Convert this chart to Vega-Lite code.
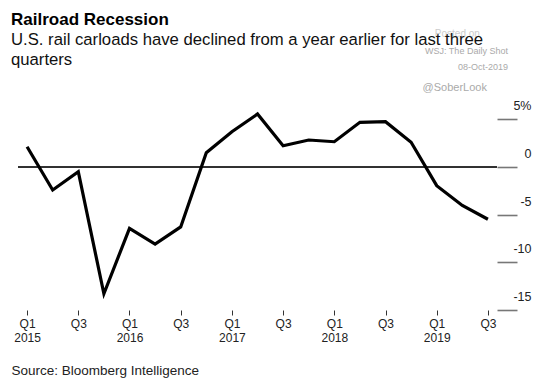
{
  "$schema": "https://vega.github.io/schema/vega-lite/v6.json",
  "width": 479,
  "height": 191,
  "autosize": {"type": "none"},
  "padding": {"left": 18, "top": 119, "right": 44, "bottom": 79},
  "background": "white",
  "config": {
    "font": "Liberation Sans",
    "view": {"stroke": null}
  },
  "title": {
    "text": "Railroad Recession",
    "subtitle": ["U.S. rail carloads have declined from a year earlier for last three", "quarters"],
    "anchor": "start",
    "frame": "group",
    "dx": -7,
    "fontSize": 17,
    "fontWeight": "bold",
    "color": "#000000",
    "subtitleFontSize": 16.7,
    "subtitleColor": "#111111",
    "subtitleLineHeight": 20,
    "subtitlePadding": 3,
    "offset": -41
  },
  "datasets": {
    "rail": [
      {"q": "Q1 2015", "v": 2.1},
      {"q": "Q2 2015", "v": -2.43},
      {"q": "Q3 2015", "v": -0.52},
      {"q": "Q4 2015", "v": -13.3},
      {"q": "Q1 2016", "v": -6.45},
      {"q": "Q2 2016", "v": -8.1},
      {"q": "Q3 2016", "v": -6.3},
      {"q": "Q4 2016", "v": 1.47},
      {"q": "Q1 2017", "v": 3.67},
      {"q": "Q2 2017", "v": 5.52},
      {"q": "Q3 2017", "v": 2.2},
      {"q": "Q4 2017", "v": 2.8},
      {"q": "Q1 2018", "v": 2.62},
      {"q": "Q2 2018", "v": 4.65},
      {"q": "Q3 2018", "v": 4.72},
      {"q": "Q4 2018", "v": 2.56},
      {"q": "Q1 2019", "v": -1.98},
      {"q": "Q2 2019", "v": -4.05},
      {"q": "Q3 2019", "v": -5.5}
    ]
  },
  "data": {"name": "rail"},
  "layer": [
    {
      "mark": {"type": "rule", "color": "#333333", "strokeWidth": 1.2},
      "encoding": {
        "y": {"datum": 0, "type": "quantitative", "scale": {"domain": [-15, 5], "nice": false, "zero": false}}
      }
    },
    {
      "mark": {"type": "line", "color": "#000000", "strokeWidth": 3.2, "strokeJoin": "miter"},
      "encoding": {
        "x": {
          "field": "q",
          "type": "ordinal",
          "scale": {
            "type": "point",
            "padding": 0.355,
            "domain": ["Q1 2015","Q2 2015","Q3 2015","Q4 2015","Q1 2016","Q2 2016","Q3 2016","Q4 2016","Q1 2017","Q2 2017","Q3 2017","Q4 2017","Q1 2018","Q2 2018","Q3 2018","Q4 2018","Q1 2019","Q2 2019","Q3 2019"]
          },
          "axis": {
            "values": ["Q1 2015","Q3 2015","Q1 2016","Q3 2016","Q1 2017","Q3 2017","Q1 2018","Q3 2018","Q1 2019","Q3 2019"],
            "labelExpr": "slice(datum.value,0,2)=='Q1' ? split(datum.value,' ') : slice(datum.value,0,2)",
            "labelAngle": 0,
            "labelFontSize": 12,
            "labelColor": "#222222",
            "labelLineHeight": 14.5,
            "labelBaseline": "top",
            "labelPadding": 3,
            "domain": false,
            "grid": false,
            "ticks": true,
            "tickSize": 5,
            "tickColor": "#333333",
            "tickWidth": 1,
            "title": "Source: Bloomberg Intelligence",
            "titleFontSize": 13.5,
            "titleFontWeight": "normal",
            "titleColor": "#222222",
            "titleAnchor": "start",
            "titleAlign": "left",
            "titleBaseline": "alphabetic",
            "titleX": -7,
            "titleY": 64
          }
        },
        "y": {
          "field": "v",
          "type": "quantitative",
          "scale": {"domain": [-15, 5], "nice": false, "zero": false},
          "axis": {
            "orient": "right",
            "values": [5, 0, -5, -10, -15],
            "labelExpr": "datum.value == 5 ? '5%' : toString(datum.value)",
            "labelFontSize": 12.5,
            "labelColor": "#222222",
            "labelAlign": "right",
            "labelBaseline": "alphabetic",
            "labelPadding": 14,
            "labelOffset": -9.5,
            "domain": false,
            "grid": false,
            "tickSize": 20,
            "tickColor": "#777777",
            "tickWidth": 1.6,
            "title": null
          }
        }
      }
    },
    {
      "data": {"values": [{"t": "WSJ: The Daily Shot", "v": 11.78}, {"t": "08-Oct-2019", "v": 10.13}]},
      "mark": {"type": "text", "align": "right", "baseline": "alphabetic", "fontSize": 9, "color": "#aaaaaa", "dx": 20},
      "encoding": {
        "x": {"datum": "Q3 2019", "type": "ordinal"},
        "y": {"field": "v", "type": "quantitative", "scale": {"domain": [-15, 5], "nice": false, "zero": false}},
        "text": {"field": "t"}
      }
    },
    {
      "data": {"values": [{"t": "@SoberLook", "v": 7.96}]},
      "mark": {"type": "text", "align": "right", "baseline": "alphabetic", "fontSize": 11, "color": "#aaaaaa", "dx": -1},
      "encoding": {
        "x": {"datum": "Q3 2019", "type": "ordinal"},
        "y": {"field": "v", "type": "quantitative", "scale": {"domain": [-15, 5], "nice": false, "zero": false}},
        "text": {"field": "t"}
      }
    },
    {
      "data": {"values": [{"t": "Posted on", "v": 13.6}]},
      "mark": {"type": "text", "align": "right", "baseline": "alphabetic", "fontSize": 10, "color": "#cccccc", "dx": -8},
      "encoding": {
        "x": {"datum": "Q3 2019", "type": "ordinal"},
        "y": {"field": "v", "type": "quantitative", "scale": {"domain": [-15, 5], "nice": false, "zero": false}},
        "text": {"field": "t"}
      }
    }
  ]
}
